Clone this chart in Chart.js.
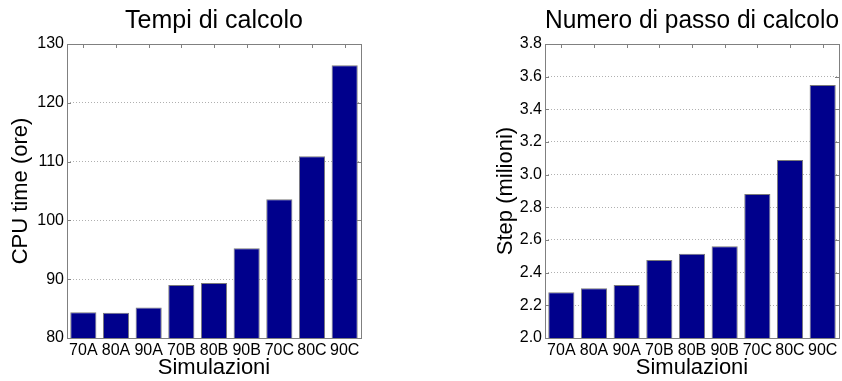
<!DOCTYPE html>
<html>
<head>
<meta charset="utf-8">
<script src="https://cdn.jsdelivr.net/npm/chart.js@4/dist/chart.umd.min.js"></script>
<style>
  html, body { margin: 0; padding: 0; background: #fff; }
  #wrap { position: relative; width: 842px; height: 381px; }
  .box { position: absolute; top: 0; width: 421px; height: 381px; }
</style>
</head>
<body>
<div id="wrap">
  <div class="box" style="left:0"><canvas id="c1"></canvas></div>
  <div class="box" style="left:421px"><canvas id="c2"></canvas></div>
</div>
<script>
// ---- data ----
const categories = ['70A', '80A', '90A', '70B', '80B', '90B', '70C', '80C', '90C'];
const cpuHours = [84.4, 84.3, 85.2, 89.0, 89.35, 95.25, 103.6, 110.9, 126.4];
const stepsMillions = [2.28, 2.304, 2.325, 2.478, 2.516, 2.561, 2.882, 3.09, 3.549];
const cpuTicks = [80, 90, 100, 110, 120, 130];
const stepTicks = [2.0, 2.2, 2.4, 2.6, 2.8, 3.0, 3.2, 3.4, 3.6, 3.8];

const FONT = 'Liberation Sans, Arial, Helvetica, sans-serif';
const BAR = '#00008c';
const EDGE = '#7a7a7a';
const AXIS = '#808080';

const matlabAxes = {
  id: 'matlabAxes',
  beforeDatasetsDraw(chart) {
    const {ctx, chartArea: a, scales: {x, y}} = chart;
    ctx.save();
    ctx.strokeStyle = AXIS;
    ctx.lineWidth = 1;
    const L = 4;
    ctx.beginPath();
    y.ticks.forEach(t => {
      const py = Math.round(y.getPixelForValue(t.value)) + 0.5;
      ctx.moveTo(a.left, py); ctx.lineTo(a.left + L, py);
      ctx.moveTo(a.right, py); ctx.lineTo(a.right - L, py);
    });
    categories.forEach((c, i) => {
      const px = Math.round(x.getPixelForValue(i)) + 0.5;
      ctx.moveTo(px, a.top); ctx.lineTo(px, a.top + L);
      ctx.moveTo(px, a.bottom); ctx.lineTo(px, a.bottom - L);
    });
    ctx.stroke();
    ctx.restore();
  },
  afterDatasetsDraw(chart) {
    const {ctx, chartArea: a} = chart;
    ctx.save();
    ctx.strokeStyle = AXIS;
    ctx.lineWidth = 1;
    ctx.strokeRect(Math.round(a.left) + 0.5, Math.round(a.top) + 0.5,
                   Math.round(a.right - a.left), Math.round(a.bottom - a.top));
    ctx.restore();
  }
};

function makeChart(id, values, ticks, title, yTitle, yWidth, rightPad, yTitlePad, decimals) {
  return new Chart(document.getElementById(id), {
    type: 'bar',
    data: {
      labels: categories,
      datasets: [{
        data: values,
        backgroundColor: BAR,
        borderColor: EDGE,
        borderWidth: 1,
        borderSkipped: 'bottom',
        barPercentage: 0.8,
        categoryPercentage: 1.0
      }]
    },
    options: {
      responsive: true,
      maintainAspectRatio: false,
      animation: false,
      devicePixelRatio: 1,
      layout: { padding: { left: 0, right: rightPad, top: 0, bottom: 0 } },
      plugins: {
        legend: { display: false },
        tooltip: { enabled: false },
        title: {
          display: true,
          text: title,
          color: '#000',
          fullSize: false,
          font: { family: FONT, size: 25, weight: 'normal', lineHeight: 1.2 },
          padding: { top: 6, bottom: 8 }
        }
      },
      scales: {
        x: {
          offset: true,
          grid: { display: false, drawTicks: false },
          border: { display: false },
          ticks: {
            color: '#000',
            padding: 3,
            maxRotation: 0,
            autoSkip: false,
            font: { family: FONT, size: 16 }
          },
          title: {
            display: true,
            text: 'Simulazioni',
            color: '#000',
            font: { family: FONT, size: 22, lineHeight: 1.2 },
            padding: { top: 0, bottom: 0 }
          },
          afterFit(s) { s.height = 43; }
        },
        y: {
          min: ticks[0],
          max: ticks[ticks.length - 1],
          afterBuildTicks(s) { s.ticks = ticks.map(v => ({ value: v })); },
          grid: {
            drawTicks: false,
            color: (c) => (c.tick && (c.tick.value === ticks[0] || c.tick.value === ticks[ticks.length - 1])) ? 'rgba(0,0,0,0)' : '#b0b0b0',
            lineWidth: 1
          },
          border: { display: false, dash: [1, 2] },
          ticks: {
            color: '#000',
            padding: 3,
            font: { family: FONT, size: 16 },
            callback: (v) => Number(v).toFixed(decimals)
          },
          title: {
            display: true,
            text: yTitle,
            color: '#000',
            font: { family: FONT, size: 22, lineHeight: 1.2 },
            padding: { top: yTitlePad, bottom: 0 }
          },
          afterFit(s) { s.width = yWidth; }
        }
      }
    },
    plugins: [matlabAxes]
  });
}

makeChart('c1', cpuHours, cpuTicks, 'Tempi di calcolo', 'CPU time (ore)', 67, 60, 8, 0);
makeChart('c2', stepsMillions, stepTicks, 'Numero di passo di calcolo', 'Step (milioni)', 124, 3, 72, 1);
</script>
</body>
</html>
